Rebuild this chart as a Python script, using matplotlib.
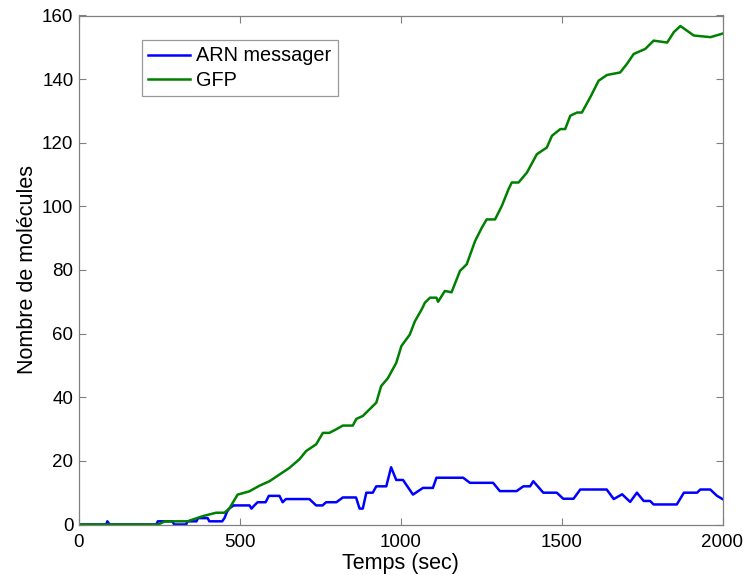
import matplotlib
matplotlib.use("Agg")
import matplotlib.pyplot as plt

plt.rcParams['font.family'] = ['Liberation Sans', 'DejaVu Sans']

# ARN messager (blue)
t_arn = [0, 85, 88, 95, 240, 245, 290, 296, 333, 337, 365, 370, 400, 405, 445, 452,
         460, 467, 480, 530, 536, 545, 555, 580, 590, 623, 633, 643, 716, 737, 757,
         768, 800, 820, 861, 872, 882, 893, 913, 924, 955, 970, 986, 1007, 1038, 1069,
         1100, 1111, 1152, 1194, 1215, 1287, 1308, 1360, 1381, 1402, 1412, 1443, 1485,
         1505, 1537, 1558, 1640, 1662, 1688, 1713, 1734, 1755, 1775, 1786, 1858, 1880,
         1921, 1931, 1962, 1983, 2000]
arn = [0, 0, 1, 0, 0, 1, 1, 0, 0, 1, 1, 2, 2, 1, 1, 2,
       4, 5, 6, 6, 5, 6, 7, 7, 9, 9, 7, 8, 8, 6, 6,
       7, 7, 8.5, 8.5, 5, 5, 10, 10, 12, 12, 18, 14, 14, 9.4, 11.5,
       11.5, 14.7, 14.7, 14.7, 13.1, 13.1, 10.5, 10.5, 12, 12, 13.6, 10, 10,
       8.1, 8.1, 11, 11, 8, 9.5, 7.1, 10, 7.4, 7.4, 6.3, 6.3, 10,
       10, 11, 11, 9, 8]

# GFP (green)
t_gfp = [0, 246, 267, 337, 384, 426, 452, 467, 493, 529, 561, 592, 623, 654, 685,
         706, 737, 758, 778, 799, 820, 851, 862, 882, 903, 924, 939, 960, 986, 1002,
         1028, 1044, 1065, 1075, 1091, 1111, 1116, 1137, 1158, 1184, 1205, 1231, 1252,
         1267, 1293, 1314, 1335, 1345, 1366, 1392, 1423, 1454, 1470, 1496, 1511, 1527,
         1548, 1563, 1589, 1615, 1641, 1682, 1703, 1724, 1760, 1786, 1828, 1849, 1869,
         1911, 1963, 2000]
gfp = [0, 0, 1, 1, 2.6, 3.7, 3.7, 5, 9.4, 10.4, 12.2, 13.6, 15.7, 17.8, 20.5,
       23.1, 25.2, 28.8, 28.8, 29.9, 31.1, 31.1, 33.2, 34.1, 36.2, 38.3, 43.5, 46, 50.8, 56.1,
       59.7, 63.9, 67.6, 69.7, 71.3, 71.3, 70, 73.4, 73, 79.7, 81.8, 89.1, 93.3,
       95.9, 95.9, 100.1, 105.4, 107.5, 107.5, 110.6, 116.4, 118.5, 122.2, 124.3, 124.3, 128.5,
       129.5, 129.5, 134.3, 139.5, 141.3, 142.1, 144.8, 147.9, 149.5, 152.1, 151.5, 154.8, 156.7,
       153.7, 153.2, 154.3]

fig = plt.figure(figsize=(7.47, 5.75), dpi=100)
ax = fig.add_axes([79 / 747, 1 - 524.5 / 575, (722.5 - 79) / 747, (524.5 - 15.5) / 575])

ax.plot(t_arn, arn, color='#0000ff', lw=1.8, label='ARN messager')
ax.plot(t_gfp, gfp, color='#008000', lw=1.8, label='GFP')

ax.set_xlim(0, 2000)
ax.set_ylim(0, 160)
ax.set_xticks([0, 500, 1000, 1500, 2000])
ax.set_yticks(range(0, 161, 20))
ax.tick_params(direction='in', top=True, right=True, length=5, width=0.8,
               color='#808080', labelsize=13.5)
ax.tick_params(axis='x', pad=6.5)
ax.tick_params(axis='y', pad=4)
for s in ax.spines.values():
    s.set_color('#808080')
    s.set_linewidth(0.9)

ax.set_xlabel('Temps (sec)', fontsize=15.5, labelpad=1.5)
ax.set_ylabel('Nombre de molécules', fontsize=15.5, labelpad=3)

leg = ax.legend(loc='upper left', bbox_to_anchor=(0.0974, 0.952), borderaxespad=0,
                fontsize=14.3, frameon=True, fancybox=False, handlelength=2.1,
                handletextpad=0.3, borderpad=0.33, labelspacing=0.26)
leg.get_frame().set_edgecolor('#808080')
leg.get_frame().set_linewidth(0.9)

fig.savefig('out.png', dpi=100)
